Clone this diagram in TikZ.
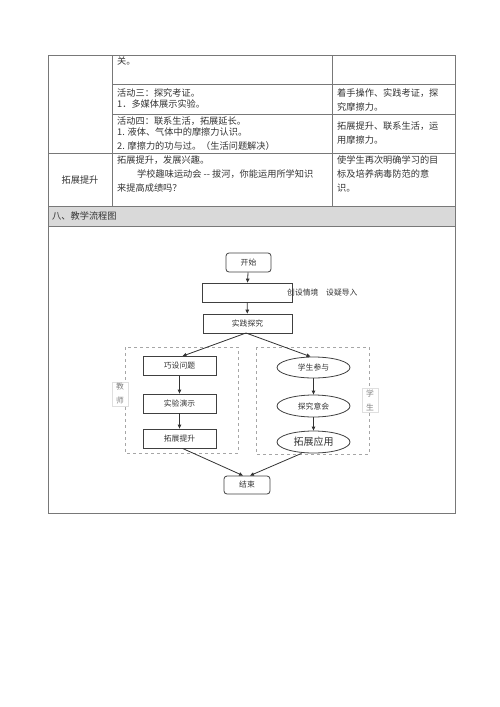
\documentclass[tikz,border=0pt]{standalone}
\usepackage{fontspec}
\setmainfont{Noto Sans CJK SC}
\usepackage{tikz}
\usetikzlibrary{arrows.meta,positioning,shapes.geometric,calc}
\definecolor{gridgray}{RGB}{120,120,120}
\definecolor{headgray}{RGB}{217,217,217}
\definecolor{txtgray}{RGB}{51,51,51}
\begin{document}
\begin{tikzpicture}[
    x=1pt, y=-1pt,
    cell/.style={anchor=west, inner sep=0pt, text=txtgray,
      font=\fontsize{9.2}{11}\selectfont},
    box/.style={rectangle, draw=black!75, thick, minimum width=73pt,
      minimum height=19pt, inner sep=0pt, text=txtgray,
      font=\fontsize{7.8}{9}\selectfont},
    terminal/.style={box, rounded corners=3pt, minimum width=45pt,
      minimum height=19pt},
    oval/.style={ellipse, draw=black!75, thick, minimum width=73pt,
      minimum height=21pt, inner sep=0pt, text=txtgray,
      font=\fontsize{7.8}{9}\selectfont},
    group/.style={draw=gray!70, dashed, thick},
    side/.style={draw=gray!25, fill=white, minimum width=16pt,
      inner sep=1.5pt, align=center, text=gray,
      font=\fontsize{7.8}{14}\selectfont},
    flow/.style={-{Triangle[length=4pt,width=3.5pt]}, draw=black!80, thick},
    >=Stealth
  ]
  \useasboundingbox (0,0) rectangle (500,707);

  %% Table frame
  \fill[headgray] (48,206) rectangle (455,226);
  \draw[gridgray, thick] (48,55) rectangle (455,513);
  \draw[gridgray, thick] (112,55) -- (112,206);
  \draw[gridgray, thick] (332,55) -- (332,206);
  \draw[gridgray, thick] (112,84) -- (455,84);
  \draw[gridgray, thick] (112,114) -- (455,114);
  \draw[gridgray, thick] (48,153) -- (455,153);
  \draw[gridgray, thick] (48,206) -- (455,206);
  \draw[gridgray, thick] (48,226) -- (455,226);

  %% Table texts
  \node[cell] (t1) at (117,61)  {关。};
  \node[cell] (t2) at (117,93)  {活动三：探究考证。};
  \node[cell] (t3) at (117,104) {1．多媒体展示实验。};
  \node[cell] (t4) at (117,121) {活动四：联系生活，拓展延长。};
  \node[cell] (t5) at (117,132) {1. 液体、气体中的摩擦力认识。};
  \node[cell] (t6) at (117,146) {2. 摩擦力的功与过。（生活问题解决）};
  \node[cell] (r1) at (337,93)  {着手操作、实践考证，探};
  \node[cell] (r2) at (337,107) {究摩擦力。};
  \node[cell] (r3) at (337,126) {拓展提升、联系生活，运};
  \node[cell] (r4) at (337,140) {用摩擦力。};
  \node[cell, anchor=center] (lbl) at (80,180) {拓展提升};
  \node[cell] (m1) at (117,160) {拓展提升，发展兴趣。};
  \node[cell] (m2) at (137,174) {学校趣味运动会 -{}- 拔河，你能运用所学知识};
  \node[cell] (m3) at (117,188) {来提高成绩吗？};
  \node[cell] (u1) at (337,160) {使学生再次明确学习的目};
  \node[cell] (u2) at (337,174) {标及培养病毒防范的意};
  \node[cell] (u3) at (337,188) {识。};
  \node[cell] (head) at (52,216) {八、教学流程图};

  %% Groups
  \draw[group] (125,347) rectangle (238,453);
  \draw[group] (256,347) rectangle (369,454);
  \node[side] (tch) at (120,394) {教\\师};
  \node[side] (stu) at (370,400) {学\\生};

  %% Flowchart nodes
  \node[terminal] (start) at (248.5,262.5) {开始};
  \node[box, minimum width=90pt] (intro) at (247,292.5) {};
  \node[cell, font=\fontsize{7.8}{9}\selectfont] (introtxt) at (287,293)
    {创设情境\quad 设疑导入};
  \node[box, minimum width=89pt] (practice) at (247.5,323.5) {实践探究};
  \coordinate (fork) at (246,333);

  \node[box] (ask) at (179.5,366) {巧设问题};
  \node[box] (demo) at (179.5,403.5) {实验演示};
  \node[box] (raise) at (179.5,438.5) {拓展提升};

  \node[oval] (join) at (313.5,367.5) {学生参与};
  \node[oval, minimum height=22pt] (grasp) at (313.5,406) {探究意会};
  \node[oval, minimum height=22pt, font=\fontsize{10}{12}\selectfont]
    (apply) at (313.5,442) {拓展应用};

  \node[terminal, minimum width=46pt, minimum height=18pt] (finish)
    at (247,485) {结束};

  %% Connectors
  \draw[flow] (start) -- (intro);
  \draw[flow] (intro) -- (practice);
  \draw[flow] (fork) -- ($(ask.north)+(3,0)$);
  \draw[flow] (fork) -- ($(join.north)+(-3,0)$);
  \draw[flow] (ask) -- (demo);
  \draw[flow] (demo) -- (raise);
  \draw[flow] (join) -- (grasp);
  \draw[flow] (grasp) -- (apply);
  \draw[flow] ($(raise.south)+(3,0)$) -- ($(finish.north)+(-4,0)$);
  \draw[flow] ($(apply.south)+(-12,0)$) -- ($(finish.north)+(3,0)$);

\end{tikzpicture}
\end{document}
